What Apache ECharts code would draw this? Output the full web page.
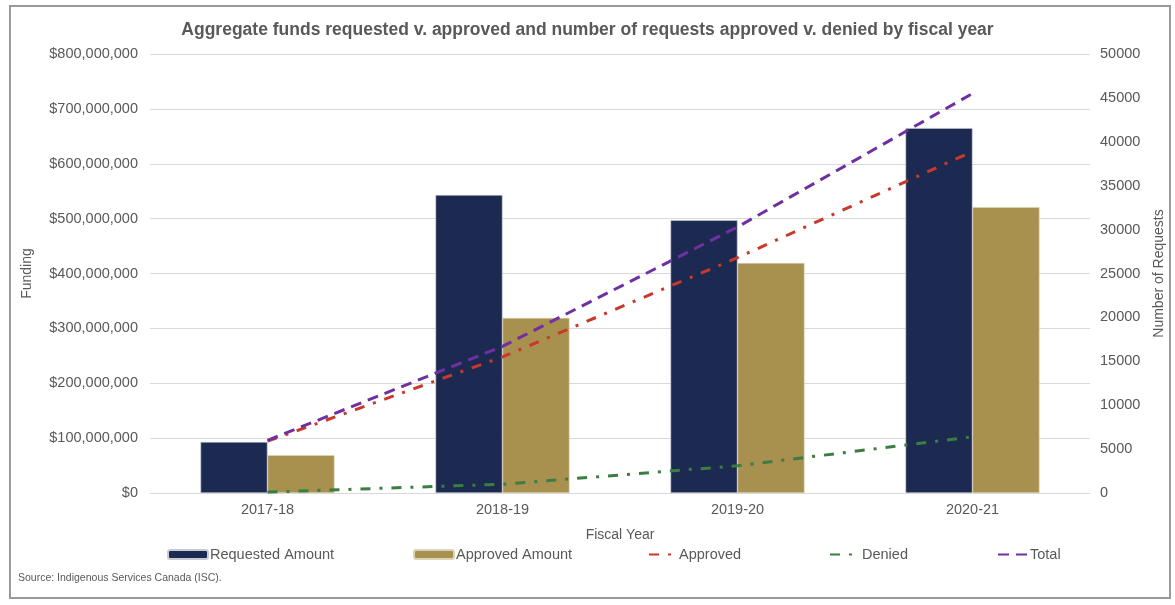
<!DOCTYPE html>
<html>
<head>
<meta charset="utf-8">
<script src="https://cdn.jsdelivr.net/npm/echarts@6/dist/echarts.min.js"></script>
<style>
  html, body { margin: 0; padding: 0; background: #fff; }
  #chart { width: 1175px; height: 605px; }
</style>
</head>
<body>
<div id="chart"></div>
<script>
// data
var years = ['2017-18', '2018-19', '2019-20', '2020-21'];
var requestedAmount = [93000000, 543000000, 497000000, 665000000];
var approvedAmount = [69000000, 319000000, 419000000, 521000000];
var approvedCount = [5900, 15500, 26800, 38900];
var deniedCount = [100, 1000, 3100, 6400];
var totalCount = [6000, 16700, 30300, 45500];

var grey = '#595959';
var font = 'Liberation Sans, Arial, sans-serif';

var myChart = echarts.init(document.getElementById('chart'));

function oneLegend(name, left, w, isLine) {
    var lg = {
        data: [name],
        left: left,
        top: 542,
        itemWidth: w,
        itemHeight: 9,
        itemGap: 4,
        textStyle: { color: grey, fontSize: 14.5, fontFamily: font, padding: [0, 0, 0, -3] }
    };
    if (isLine) {
        lg.itemStyle = { opacity: 0 };
    }
    return lg;
}

var option = {
    backgroundColor: '#fff',
    animation: false,
    title: {
        text: 'Aggregate funds requested v. approved and number of requests approved v. denied by fiscal year',
        left: 'center',
        top: 16,
        textStyle: { color: grey, fontSize: 17.5, fontWeight: 'bold', fontFamily: font }
    },
    graphic: [
        {
            type: 'rect',
            shape: { x: 10, y: 6, width: 1160, height: 592 },
            style: { fill: 'none', stroke: '#9a9a9a', lineWidth: 2 }
        },
        {
            type: 'text',
            left: 18,
            top: 573,
            style: { text: 'Source: Indigenous Services Canada (ISC).', fill: grey, font: '10.5px ' + font }
        }
    ],
    legend: [
        oneLegend('Requested Amount', 162, 40, false),
        oneLegend('Approved Amount', 408, 40, false),
        oneLegend('Approved', 643, 28, true),
        oneLegend('Denied', 824, 30, true),
        oneLegend('Total', 992, 30, true)
    ],
    grid: { left: 150, right: 85, top: 54, bottom: 112 },
    xAxis: {
        type: 'category',
        data: years,
        name: 'Fiscal Year',
        nameLocation: 'middle',
        nameGap: 35,
        nameTextStyle: { color: grey, fontSize: 14, fontFamily: font },
        axisTick: { show: false },
        axisLine: { lineStyle: { color: '#d9d9d9' } },
        axisLabel: { color: grey, fontSize: 14.5, fontFamily: font, margin: 9 }
    },
    yAxis: [
        {
            type: 'value',
            min: 0,
            max: 800000000,
            interval: 100000000,
            name: 'Funding',
            nameLocation: 'middle',
            nameGap: 116,
            nameTextStyle: { color: grey, fontSize: 14, fontFamily: font },
            axisLabel: {
                color: grey, fontSize: 14.5, fontFamily: font, margin: 12,
                formatter: function(v) { return '$' + v.toLocaleString('en-US'); }
            },
            splitLine: { lineStyle: { color: '#d9d9d9' } }
        },
        {
            type: 'value',
            min: 0,
            max: 50000,
            interval: 5000,
            name: 'Number of Requests',
            nameLocation: 'middle',
            nameGap: 62,
            nameTextStyle: { color: grey, fontSize: 14, fontFamily: font },
            axisLabel: {
                color: grey, fontSize: 14.5, fontFamily: font, margin: 10,
                formatter: function(v) { return String(v); }
            },
            splitLine: { show: false }
        }
    ],
    series: [
        {
            name: 'Requested Amount',
            type: 'bar',
            data: requestedAmount,
            barWidth: 67,
            barGap: '0%',
            itemStyle: { color: '#1c2951', borderColor: '#c8cbd3', borderWidth: 0.6 }
        },
        {
            name: 'Approved Amount',
            type: 'bar',
            data: approvedAmount,
            barWidth: 67,
            barGap: '0%',
            itemStyle: { color: '#a8904f', borderColor: '#ddd3b8', borderWidth: 0.6 }
        },
        {
            name: 'Approved',
            type: 'line',
            yAxisIndex: 1,
            data: approvedCount,
            symbol: 'none',
            z: 5,
            itemStyle: { color: '#c8382e' },
            lineStyle: { color: '#c8382e', width: 3, type: [10, 9, 3, 9] }
        },
        {
            name: 'Denied',
            type: 'line',
            yAxisIndex: 1,
            data: deniedCount,
            symbol: 'none',
            z: 5,
            itemStyle: { color: '#3b7d43' },
            lineStyle: { color: '#3b7d43', width: 3, type: [10, 9, 3, 9] }
        },
        {
            name: 'Total',
            type: 'line',
            yAxisIndex: 1,
            data: totalCount,
            symbol: 'none',
            z: 5,
            itemStyle: { color: '#7030a0' },
            lineStyle: { color: '#7030a0', width: 3, type: [11, 7] }
        }
    ]
};
myChart.setOption(option);
</script>
</body>
</html>
